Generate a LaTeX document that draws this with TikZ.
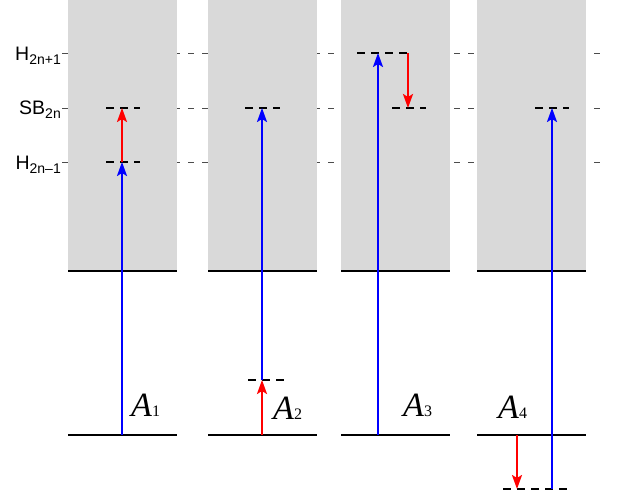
\documentclass[tikz,border=0pt]{standalone}
\usepackage{fontspec}
\setmainfont{Liberation Serif}
\newfontfamily\labsans{Liberation Sans}
\usetikzlibrary{arrows.meta}
\definecolor{boxgray}{HTML}{D9D9D9}
\tikzset{
  bandbox/.style={fill=boxgray,draw=none},
  groundline/.style={line width=2pt,black},
  guideline/.style={line width=0.7pt,black!70,dash pattern=on 6pt off 8pt},
  virtlevel/.style={line width=2pt,black,dash pattern=on 8pt off 6pt},
  bluearrow/.style={line width=2.2pt,blue,-{Stealth[length=14pt,width=10pt,inset=3pt]}},
  redarrow/.style={line width=2.2pt,red,-{Stealth[length=14pt,width=10pt,inset=3pt]}},
  statelab/.style={font=\labsans\fontsize{19.5}{19.5}\selectfont,anchor=east,inner sep=0pt},
  pathlab/.style={font=\fontsize{34}{34}\selectfont,anchor=base west,inner sep=0pt}
}
\newcommand{\subsc}[1]{{\fontsize{14}{14}\selectfont #1}}
\newcommand{\psub}[1]{{\fontsize{16}{16}\selectfont\upshape #1}}
\begin{document}
\begin{tikzpicture}[x=1pt,y=-1pt]
\useasboundingbox (0,0) rectangle (619,497);
% guide lines
\draw[guideline] (62,53) -- (600,53);
\draw[guideline] (62,108) -- (600,108);
\draw[guideline] (62,162) -- (600,162);
% boxes
\fill[bandbox] (68,0) rectangle (177,271);
\fill[bandbox] (208,0) rectangle (317,271);
\fill[bandbox] (341,0) rectangle (450,271);
\fill[bandbox] (477,0) rectangle (586,271);
\foreach \xa/\xb in {68/177,208/317,341/450,477/586}{
  \draw[groundline] (\xa,271) -- (\xb,271);
  \draw[groundline] (\xa,435) -- (\xb,435);
}
% state labels
\node[statelab] (lh1) at (61,56) {H\raisebox{-4pt}{\subsc{2n+1}}};
\node[statelab] (lsb) at (61,110) {SB\raisebox{-4pt}{\subsc{2n}}};
\node[statelab] (lh0) at (61,165) {H\raisebox{-4pt}{\subsc{2n\textendash1}}};
% virtual levels
\draw[virtlevel] (106,108) -- (140,108);
\draw[virtlevel] (106,162) -- (140,162);
\draw[virtlevel] (245,108) -- (280,108);
\draw[virtlevel] (248,380) -- (285,380);
\draw[virtlevel] (357,53) -- (408,53);
\draw[virtlevel] (392,108) -- (426,108);
\draw[virtlevel] (535,108) -- (569,108);
\draw[virtlevel] (503,489) -- (567,489);
% coordinates
\coordinate (a1g) at (122,435); \coordinate (a1m) at (122,162); \coordinate (a1t) at (122,108);
\coordinate (a2g) at (262,435); \coordinate (a2m) at (262,380); \coordinate (a2t) at (262,108);
\coordinate (a3g) at (378,435); \coordinate (a3t) at (378,53);
\coordinate (a3s) at (408,53); \coordinate (a3e) at (408,108);
\coordinate (a4g) at (517,435); \coordinate (a4e) at (517,489);
\coordinate (a4s) at (552,489); \coordinate (a4t) at (552,108);
% arrows
\draw[bluearrow] (a1g) -- (a1m);
\draw[redarrow] (a1m) -- (a1t);
\draw[redarrow] (a2g) -- (a2m);
\draw[bluearrow] (a2m) -- (a2t);
\draw[bluearrow] (a3g) -- (a3t);
\draw[redarrow] (a3s) -- (a3e);
\draw[redarrow] (a4g) -- (a4e);
\draw[bluearrow] (a4s) -- (a4t);
% path labels
\node[pathlab] (p1) at (131,416) {\textit{A}\psub{1}};
\node[pathlab] (p2) at (273,419) {\textit{A}\psub{2}};
\node[pathlab] (p3) at (403,416) {\textit{A}\psub{3}};
\node[pathlab] (p4) at (498,418) {\textit{A}\psub{4}};
\end{tikzpicture}
\end{document}
